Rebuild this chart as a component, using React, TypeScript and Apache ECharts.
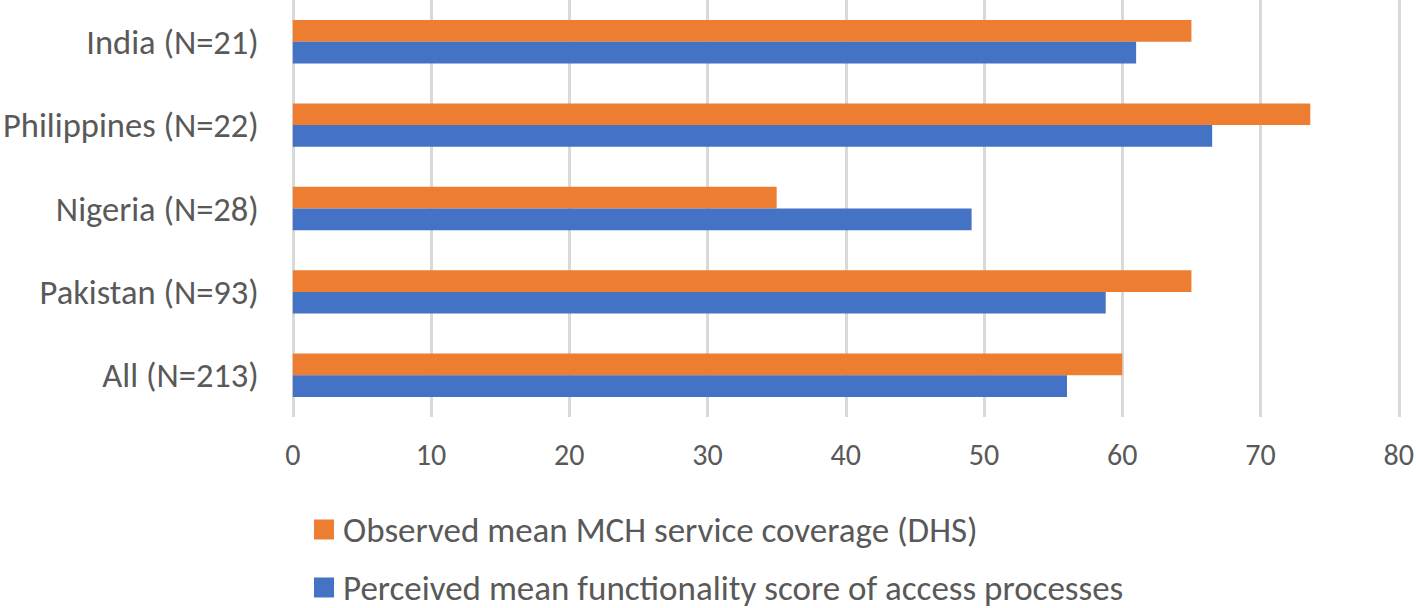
import React, { useEffect, useRef } from "react";
import * as echarts from "echarts";

const categories = ["India (N=21)", "Philippines (N=22)", "Nigeria (N=28)", "Pakistan (N=93)", "All (N=213)"];
const observedName = "Observed mean MCH service coverage (DHS)";
const perceivedName = "Perceived mean functionality score of access processes";
const observed = [65, 73.6, 35, 65, 60];
const perceived = [61, 66.5, 49.1, 58.8, 56];
const xTicks = { min: 0, max: 80, interval: 10 };

const FONT = "Carlito, 'Noto Sans', sans-serif";
const TEXT = "#595959";

const legendBase = {
  orient: "horizontal",
  left: 314,
  padding: 0,
  itemWidth: 20,
  itemHeight: 20,
  itemGap: 8,
  icon: "rect",
  textStyle: { fontSize: 35, lineHeight: 30, color: TEXT, fontFamily: FONT, padding: [0, 0, 0, 4] },
};

export default function App() {
  const ref = useRef<HTMLDivElement>(null);
  useEffect(() => {
    const chart = echarts.init(ref.current!, null, { renderer: "svg" });
    chart.setOption({
      animation: false,
      textStyle: { fontFamily: FONT },
      grid: { left: 289, right: 15, top: 0, bottom: 191, containLabel: false },
      legend: [
        { ...legendBase, top: 512, data: [observedName] },
        { ...legendBase, top: 570, data: [perceivedName] },
      ],
      xAxis: {
        type: "value",
        min: xTicks.min,
        max: xTicks.max,
        interval: xTicks.interval,
        axisLine: { show: false },
        axisTick: { show: false },
        splitLine: { show: true, lineStyle: { color: "#d9d9d9", width: 3 } },
        axisLabel: { fontSize: 30, color: TEXT, margin: 22, fontFamily: FONT },
      },
      yAxis: {
        type: "category",
        data: categories,
        inverse: true,
        axisLine: { show: false },
        axisTick: { show: false },
        axisLabel: { fontSize: 34.5, color: TEXT, margin: 34, fontFamily: FONT },
      },
      series: [
        {
          name: observedName,
          type: "bar",
          data: observed,
          barWidth: 21.7,
          barGap: "0%",
          itemStyle: { color: "#ed7d31" },
        },
        {
          name: perceivedName,
          type: "bar",
          data: perceived,
          barWidth: 21.7,
          barGap: "0%",
          itemStyle: { color: "#4472c4" },
        },
      ],
    });
    return () => chart.dispose();
  }, []);
  return (
    <div
      ref={ref}
      style={{ position: "absolute", left: 0, top: 0, width: 1417, height: 608 }}
    />
  );
}
